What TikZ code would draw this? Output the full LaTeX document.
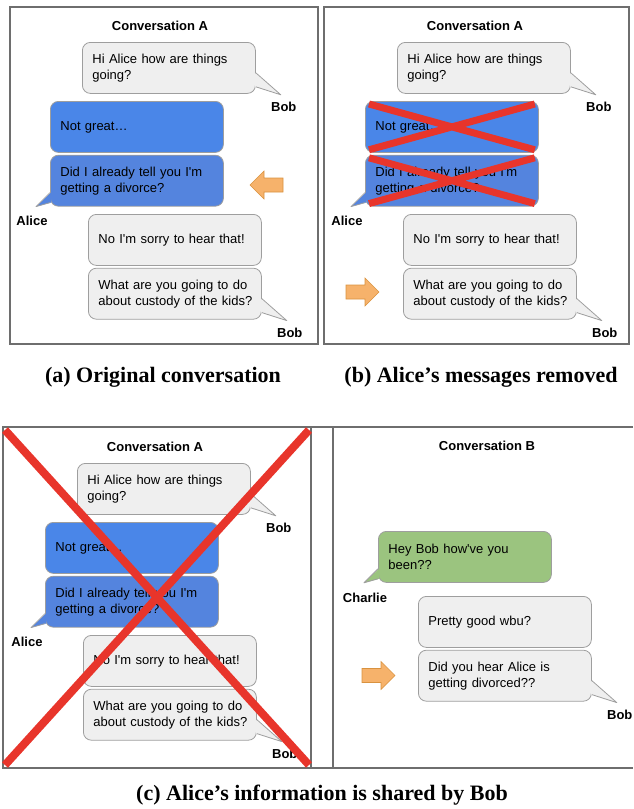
\documentclass[tikz,border=0pt]{standalone}
\usepackage{fontspec}
\usepackage{tikz}
\usetikzlibrary{positioning,calc}
\setmainfont{Liberation Serif}
\newfontfamily\bubblefont{Liberation Sans}
\definecolor{msggrey}{HTML}{EFEFEF}
\definecolor{msgline}{HTML}{9E9E9E}
\definecolor{msgblue}{HTML}{4A86E8}
\definecolor{msgbluedark}{HTML}{5484DE}
\definecolor{msggreen}{HTML}{9BC47F}
\definecolor{arrowfill}{HTML}{F6B26B}
\definecolor{arrowline}{HTML}{D9923F}
\definecolor{crossred}{HTML}{E8352B}
\definecolor{frameline}{HTML}{6E6E6E}
\tikzset{
    bubble/.style = {draw=msgline, fill=#1, rectangle, rounded corners=8pt, line width=0.8pt, anchor=north west, minimum width=173pt, minimum height=51pt, text width=159pt, inner xsep=7pt, inner ysep=0pt, align=left, font=\bubblefont\fontsize{13}{16}\selectfont},
    tail-line/.style = {draw=msgline, line width=0.8pt, line join=round},
    who/.style = {font=\bubblefont\bfseries\fontsize{13}{16}\selectfont},
    conv-title/.style = {font=\bubblefont\bfseries\fontsize{13}{16}\selectfont},
    caption/.style = {font=\bfseries\fontsize{22}{26}\selectfont},
    frame/.style = {draw=frameline, line width=1.2pt},
    arrow-box/.style = {draw=arrowline, fill=arrowfill, line width=0.6pt},
    cross/.style = {draw=crossred, line width=#1},
    fwd-arrow/.pic = {\draw[arrow-box] (-16.5,-7) -- (2.5,-7) -- (2.5,-14) -- (16.5,0) -- (2.5,14) -- (2.5,7) -- (-16.5,7) -- cycle;},
}
\newcommand{\bobtail}[2]{%
  \fill[#2] ($(#1.south east)+(-1,-21)$) -- ($(#1.south east)+(25,1)$) -- ($(#1.south east)+(-1,-7)$) -- cycle;
  \draw[tail-line] ($(#1.south east)+(0,-21)$) -- ($(#1.south east)+(25,1)$) -- ($(#1.south east)+(0,-7)$);}
\newcommand{\lefttail}[2]{%
  \fill[#2] ($(#1.south west)+(1,-14)$) -- ($(#1.south west)+(-14,0)$) -- ($(#1.south west)+(1,-4)$) -- cycle;
  \draw[tail-line] ($(#1.south west)+(0,-14)$) -- ($(#1.south west)+(-14,0)$) -- ($(#1.south west)+(0,-4)$);}
\newcommand{\convA}[1]{%
  \node[conv-title] (#1title) at (160,26) {Conversation A};
  \node[bubble=msggrey] (#1hi) at (82,42) {\hspace{3pt}Hi Alice how are things\\\hspace{3pt}going?};
  \node[bubble=msgblue] (#1not) at (50,101) {\hspace{3pt}Not great…};
  \node[bubble=msgbluedark, below=2pt of #1not] (#1did) {\hspace{3pt}Did I already tell you I'm\\\hspace{3pt}getting a divorce?};
  \node[bubble=msggrey] (#1sorry) at (88,214) {\hspace{3pt}No I'm sorry to hear that!};
  \node[bubble=msggrey, below=2pt of #1sorry] (#1what) {\hspace{3pt}What are you going to do\\\hspace{3pt}about custody of the kids?};
  \bobtail{#1hi}{msggrey}
  \lefttail{#1did}{msgbluedark}
  \bobtail{#1what}{msggrey}
  \node[who] (#1bob) at ($(#1hi.south east)+(28,13)$) {Bob};
  \node[who] (#1alice) at ($(#1did.south west)+(-18,14)$) {Alice};
  \node[who] (#1bobend) at ($(#1what.south east)+(28,13)$) {Bob};
}

\begin{document}
\begin{tikzpicture}[x=1pt, y=-1pt]
\useasboundingbox (0,0) rectangle (633,809);
\draw[frame] (10,7) rectangle (318,344);
\draw[frame] (324,7) rectangle (629,344);
\draw[frame] (633,427) -- (3,427) -- (3,768) -- (633,768) (311,427) -- (311,768) (333,427) -- (333,768);

\convA{a}
\pic[rotate=180] at (266.5,185) {fwd-arrow};

\begin{scope}[shift={(315,0)}]
\convA{b}
\end{scope}
\pic at (362.5,292) {fwd-arrow};
\draw[cross=7pt] ($(bnot.north west)+(4,3)$) -- ($(bnot.south east)+(-4,-3)$) ($(bnot.south west)+(4,-3)$) -- ($(bnot.north east)+(-4,3)$);
\draw[cross=7pt] ($(bdid.north west)+(4,3)$) -- ($(bdid.south east)+(-4,-3)$) ($(bdid.south west)+(4,-3)$) -- ($(bdid.north east)+(-4,3)$);

\begin{scope}[shift={(-5,421)}]
\convA{c}
\end{scope}
\draw[cross=8pt] (5,430) -- (309,765) (309,430) -- (5,765);

\node[conv-title] (btitle) at (487,446) {Conversation B};
\node[bubble=msggreen] (hey) at (378,531) {\hspace{3pt}Hey Bob how've you\\\hspace{3pt}been??};
\node[bubble=msggrey] (pretty) at (418,596) {\hspace{3pt}Pretty good wbu?};
\node[bubble=msggrey, below=2pt of pretty] (hear) {\hspace{3pt}Did you hear Alice is\\\hspace{3pt}getting divorced??};
\lefttail{hey}{msggreen}
\bobtail{hear}{msggrey}
\node[who] (charlie) at ($(hey.south west)+(-13,15)$) {Charlie};
\node[who] (bobc) at ($(hear.south east)+(28,13)$) {Bob};
\pic at (378.5,675.5) {fwd-arrow};

\node[caption] (capa) at (163,377) {(a) Original conversation};
\node[caption] (capb) at (481,377) {(b) Alice’s messages removed};
\node[caption] (capc) at (322,795) {(c) Alice’s information is shared by Bob};
\end{tikzpicture}
\end{document}
